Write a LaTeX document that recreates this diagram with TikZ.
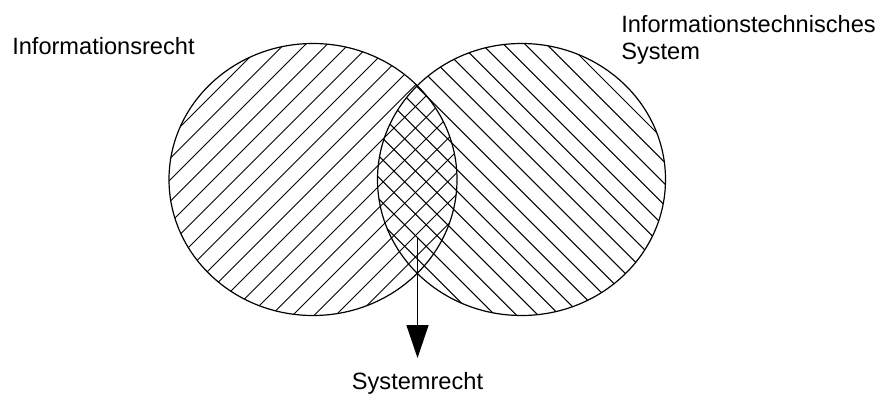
\documentclass[tikz,border=0pt]{standalone}
\usepackage{fontspec}
\setmainfont{Liberation Sans}
\usetikzlibrary{arrows.meta}
\begin{document}
\begin{tikzpicture}[x=0.75pt,y=-0.75pt,
  lbl/.style={font=\fontsize{17.7}{20}\selectfont, inner sep=0pt, anchor=base west},
  hatch/.style={line width=0.7pt},
  outline/.style={line width=0.9pt},
  pointer/.style={line width=1.1pt, -{Triangle[length=24.75pt,width=16.5pt]}}]
\fill[white] (0,0) rectangle (887,396);
\useasboundingbox (0,0) rectangle (887,396);
% left set: north-east hatching
\begin{scope}
  \clip (313,179.5) ellipse [x radius=144, y radius=136];
  \foreach \k in {-6,...,14} {
    \pgfmathsetmacro\c{393+21.5*\k}
    \draw[hatch] (\c,0) -- ({\c-400},400);
  }
\end{scope}
% right set: north-west hatching
\begin{scope}
  \clip (521.5,179.5) ellipse [x radius=144, y radius=136];
  \foreach \k in {-6,...,14} {
    \pgfmathsetmacro\c{244.4+21.5*\k}
    \draw[hatch] (\c,0) -- ({\c+400},400);
  }
\end{scope}
\draw[outline] (313,179.5) ellipse [x radius=144, y radius=136];
\draw[outline] (521.5,179.5) ellipse [x radius=144, y radius=136];
% labels
\node[lbl] (infrecht) at (12,54) {Informationsrecht};
\node[lbl] (its1) at (621,32) {Informationstechnisches};
\node[lbl] (its2) at (621,59) {System};
\node[lbl, anchor=base] (sysrecht) at (417.5,389) {Systemrecht};
% arrow
\coordinate (lens) at (417.5,237);
\coordinate (tip) at (417.5,358);
\draw[pointer] (lens) -- (tip);
\end{tikzpicture}
\end{document}
